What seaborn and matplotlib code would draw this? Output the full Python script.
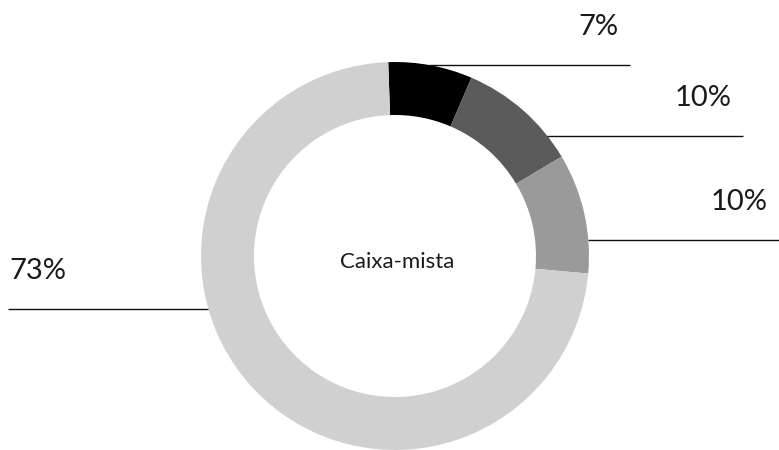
import matplotlib
matplotlib.use("Agg")
import matplotlib.pyplot as plt
import seaborn as sns
import numpy as np

# Share of each segment (percent), drawn clockwise from the top
shares = [7, 10, 10, 73]
share_labels = ["7%", "10%", "10%", "73%"]
center_label = "Caixa-mista"
segment_colors = ["#000000", "#5b5b5b", "#9a9a9a", "#d0d0d0"]

# Layout (pixel units, y measured from the top of the figure)
W, H = 779, 450
cx, cy = 395, 256
r_outer, ring = 194, 53
leader_y = [65, 136, 240, 309]
leader_end = [630, 743, 779, 8]
leader_side = ["right", "right", "right", "left"]

sns.set_theme(style="white")
plt.rcParams["font.family"] = ["Lato", "DejaVu Sans"]

fig = plt.figure(figsize=(W / 100, H / 100), dpi=100)
ax = fig.add_axes([0, 0, 1, 1])

ax.pie(
    shares,
    colors=segment_colors,
    startangle=92,
    counterclock=False,
    radius=r_outer,
    center=(cx, H - cy),
    wedgeprops=dict(width=ring, linewidth=0),
)

text_color = "#1a1a1a"
for lab, ly, lend, side in zip(share_labels, leader_y, leader_end, leader_side):
    dy = ly - cy
    dx = np.sqrt(max(r_outer ** 2 - dy ** 2, 0))
    y = H - ly
    if side == "right":
        x0 = cx + dx
        ax.plot([x0, lend], [y, y], color="#111111", lw=1.0, solid_capstyle="butt")
        ax.text(lend - 11, y + 30, lab, ha="right", va="baseline",
                fontsize=21, color=text_color)
    else:
        x0 = cx - dx
        ax.plot([lend, x0], [y, y], color="#111111", lw=1.0, solid_capstyle="butt")
        ax.text(lend + 1, y + 30, lab, ha="left", va="baseline",
                fontsize=21, color=text_color)

ax.text(cx + 2, H - 262, center_label, ha="center", va="center",
        fontsize=16, color=text_color)

ax.set_xlim(0, W)
ax.set_ylim(0, H)
ax.set_aspect("equal", adjustable="box")
ax.axis("off")

fig.savefig("out.png", dpi=100)
